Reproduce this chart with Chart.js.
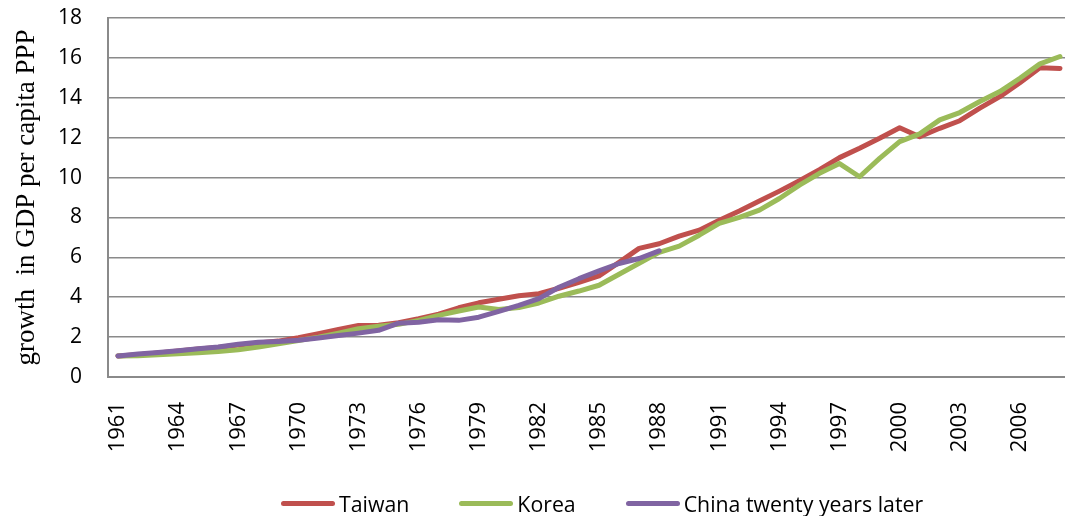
<!DOCTYPE html>
<html>
<head>
<meta charset="utf-8">
<script src="https://cdn.jsdelivr.net/npm/chart.js@4/dist/chart.umd.min.js"></script>
<style>
  html, body { margin: 0; padding: 0; background: #fff; overflow: hidden; }
  #wrap { position: absolute; left: 0; top: 0; width: 1072px; height: 516px; }
  #legend { position: absolute; top: 489px; left: 281px; display: flex; align-items: center;
            font-family: "Open Sans", sans-serif; font-size: 21.3px; color: #000; }
  .item { display: flex; align-items: center; margin-right: 50px; }
  .swatch { width: 54px; height: 5px; border-radius: 3px; margin-right: 4px; }
</style>
</head>
<body>
<div id="wrap"><canvas id="chart" width="1072" height="516"></canvas></div>
<div id="legend"></div>
<script>
const years = [
  "1961","1962","1963","1964","1965","1966","1967","1968","1969","1970","1971","1972",
  "1973","1974","1975","1976","1977","1978","1979","1980","1981","1982","1983","1984","1985",
  "1986","1987","1988","1989","1990","1991","1992","1993","1994","1995","1996","1997",
  "1998","1999","2000","2001","2002","2003","2004","2005","2006","2007","2008"
]

const taiwan = [
  1.05, 1.12, 1.2, 1.3, 1.4, 1.48, 1.6, 1.7, 1.8, 1.97, 2.17, 2.38,
  2.58, 2.6, 2.72, 2.92, 3.15, 3.47, 3.72, 3.9, 4.07, 4.18, 4.45, 4.75, 5.07,
  5.75, 6.45, 6.68, 7.06, 7.36, 7.86, 8.32, 8.82, 9.32, 9.84, 10.4, 11.0,
  11.47, 11.97, 12.5, 12.05, 12.47, 12.85, 13.48, 14.06, 14.76, 15.5, 15.47
]

const korea = [
  1.05, 1.06, 1.11, 1.16, 1.21, 1.28, 1.37, 1.5, 1.67, 1.83, 2.0, 2.2,
  2.42, 2.54, 2.64, 2.84, 3.09, 3.31, 3.51, 3.38, 3.48, 3.71, 4.05, 4.31, 4.6,
  5.15, 5.7, 6.25, 6.56, 7.11, 7.7, 8.0, 8.37, 8.95, 9.62, 10.21, 10.7,
  10.04, 10.96, 11.8, 12.19, 12.89, 13.26, 13.81, 14.31, 14.98, 15.7, 16.07
]

// China 1981-2008 shifted back twenty years, so it stops at 1988
const china = [
  1.05, 1.15, 1.23, 1.32, 1.42, 1.5, 1.64, 1.74, 1.78, 1.84, 1.95, 2.08,
  2.2, 2.34, 2.7, 2.75, 2.87, 2.84, 3.0, 3.29, 3.59, 3.93, 4.5, 4.93, 5.32,
  5.69, 5.94, 6.32
]

const seriesNames = ["Taiwan", "Korea", "China twenty years later"]
const seriesColors = ["#C0504D", "#9BBB59", "#8064A2"]
const yTicks = [0, 2, 4, 6, 8, 10, 12, 14, 16, 18]

const tickFont = { family: "Open Sans", size: 21 }
const gridColor = "#8a8a8a"

function line(i, data) {
  return {
    label: seriesNames[i],
    data: data,
    borderColor: seriesColors[i],
    backgroundColor: seriesColors[i],
    borderWidth: 5,
    pointRadius: 0,
    tension: 0,
    borderCapStyle: "round",
    borderJoinStyle: "round",
    spanGaps: false,
    order: 3 - i
  }
}

// kill the extra room chart.js keeps for the end labels
function noPad(scale) {
  scale.paddingTop = 0
  scale.paddingBottom = 0
  scale.paddingLeft = 0
  scale.paddingRight = 0
}

const ctx = document.getElementById("chart")
new Chart(ctx, {
  type: "line",
  data: {
    labels: years,
    datasets: [line(0, taiwan), line(1, korea), line(2, china)]
  },
  options: {
    responsive: false,
    animation: false,
    layout: { padding: { top: 18, right: 2, left: 0, bottom: 0 } },
    plugins: { legend: { display: false }, tooltip: { enabled: false } },
    scales: {
      x: {
        offset: true,
        grid: { display: false, drawTicks: false },
        border: { display: true, color: gridColor, width: 2 },
        ticks: {
          autoSkip: false,
          maxRotation: 90,
          minRotation: 90,
          padding: 25,
          color: "#000",
          font: { family: "Open Sans", size: 22 },
          callback: function (val, index) {
            return index % 3 === 0 ? years[index] : ""
          }
        },
        afterFit: function (scale) {
          scale.height = 139
          noPad(scale)
        }
      },
      y: {
        min: 0,
        max: 18,
        afterBuildTicks: function (scale) {
          scale.ticks = yTicks.map(v => ({ value: v }))
        },
        grid: { color: gridColor, lineWidth: 1.5, drawTicks: false },
        border: { display: true, color: gridColor, width: 2 },
        ticks: { padding: 26, color: "#000", font: tickFont },
        title: {
          display: true,
          text: "growth  in GDP per capita PPP",
          color: "#000",
          font: { family: "Liberation Serif", size: 27 },
          padding: { top: 11, bottom: 0 }
        },
        afterFit: function (scale) {
          scale.width = 108
          noPad(scale)
        }
      }
    }
  }
})

// legend built from the same names and colours
const legend = document.getElementById("legend")
seriesNames.forEach((name, i) => {
  const item = document.createElement("div")
  item.className = "item"
  const sw = document.createElement("div")
  sw.className = "swatch"
  sw.style.background = seriesColors[i]
  const txt = document.createElement("span")
  txt.textContent = name
  item.appendChild(sw)
  item.appendChild(txt)
  legend.appendChild(item)
})
</script>
</body>
</html>
